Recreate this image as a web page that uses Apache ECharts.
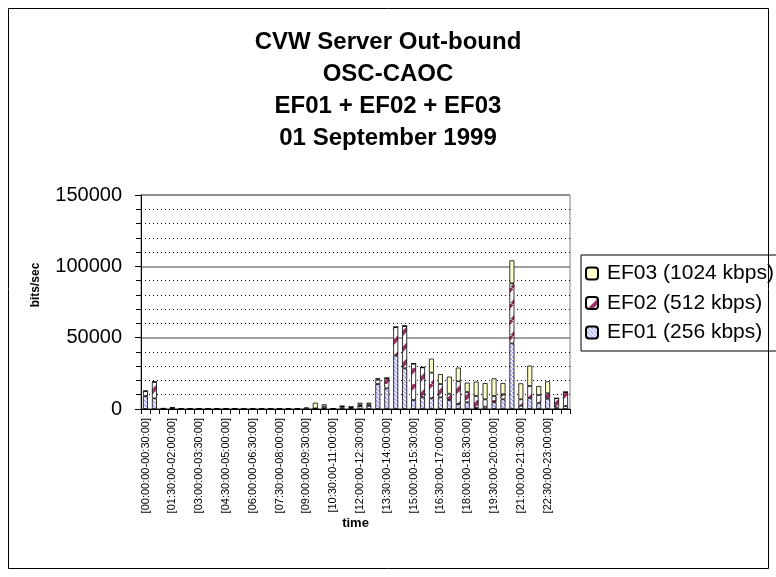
<!DOCTYPE html>
<html>
<head>
<meta charset="utf-8">
<script src="https://cdn.jsdelivr.net/npm/echarts@6/dist/echarts.min.js"></script>
<style>
  html, body { margin: 0; padding: 0; background: #fff; }
  #chart { width: 776px; height: 577px; }
</style>
</head>
<body>
<div id="chart"></div>
<script>
const categories = [
  '[00:00:00-00:30:00]', '[00:30:00-01:00:00]', '[01:00:00-01:30:00]', '[01:30:00-02:00:00]',
  '[02:00:00-02:30:00]', '[02:30:00-03:00:00]', '[03:00:00-03:30:00]', '[03:30:00-04:00:00]',
  '[04:00:00-04:30:00]', '[04:30:00-05:00:00]', '[05:00:00-05:30:00]', '[05:30:00-06:00:00]',
  '[06:00:00-06:30:00]', '[06:30:00-07:00:00]', '[07:00:00-07:30:00]', '[07:30:00-08:00:00]',
  '[08:00:00-08:30:00]', '[08:30:00-09:00:00]', '[09:00:00-09:30:00]', '[09:30:00-10:00:00]',
  '[10:00:00-10:30:00]', '[10:30:00-11:00:00]', '[11:00:00-11:30:00]', '[11:30:00-12:00:00]',
  '[12:00:00-12:30:00]', '[12:30:00-13:00:00]', '[13:00:00-13:30:00]', '[13:30:00-14:00:00]',
  '[14:00:00-14:30:00]', '[14:30:00-15:00:00]', '[15:00:00-15:30:00]', '[15:30:00-16:00:00]',
  '[16:00:00-16:30:00]', '[16:30:00-17:00:00]', '[17:00:00-17:30:00]', '[17:30:00-18:00:00]',
  '[18:00:00-18:30:00]', '[18:30:00-19:00:00]', '[19:00:00-19:30:00]', '[19:30:00-20:00:00]',
  '[20:00:00-20:30:00]', '[20:30:00-21:00:00]', '[21:00:00-21:30:00]', '[21:30:00-22:00:00]',
  '[22:00:00-22:30:00]', '[22:30:00-23:00:00]', '[23:00:00-23:30:00]', '[23:30:00-00:00:00]'
]

// bits/sec per half hour
const ef01 = [9000, 7500, 200, 500, 0, 0, 0, 0, 0, 0, 0, 0, 0, 0, 0, 0, 0, 0,
  0, 200, 500, 0, 1000, 800, 2000, 2200, 17500, 14500, 37400, 28500, 6300, 8200,
  7500, 8200, 6300, 3500, 4700, 700, 1600, 4700, 6800, 46000, 2300, 7500, 4000, 7200, 1000, 2100]
const ef02 = [3500, 11500, 200, 300, 0, 0, 0, 0, 0, 0, 0, 0, 0, 0, 0, 0, 0, 0,
  0, 200, 1200, 0, 1000, 700, 1000, 1000, 3000, 7200, 20100, 29700, 25500, 21000,
  18000, 9300, 4400, 15900, 7200, 8400, 5200, 4400, 3500, 42100, 4500, 8600, 5800, 3800, 6500, 9800]
const ef03 = [300, 200, 0, 300, 0, 0, 0, 0, 0, 0, 0, 0, 0, 0, 0, 0, 0, 0,
  1200, 4000, 1600, 0, 0, 0, 1400, 1200, 1200, 0, 0, 0, 0, 0,
  9800, 7000, 12000, 9600, 6600, 10100, 11400, 12400, 7900, 16100, 11200, 14300, 6300, 8400, 0, 0]

const seriesNames = ['EF01 (256 kbps)', 'EF02 (512 kbps)', 'EF03 (1024 kbps)']
const yTicks = [0, 50000, 100000, 150000]

// diagonal hatch fill like the old spreadsheet patterns
function hatch(size, color, width, up) {
  const c = document.createElement('canvas')
  c.width = size
  c.height = size
  const g = c.getContext('2d')
  g.fillStyle = '#ffffff'
  g.fillRect(0, 0, size, size)
  g.strokeStyle = color
  g.lineWidth = width
  g.beginPath()
  for (let k = -1; k <= 1; k++) {
    if (up) {
      g.moveTo(k * size, size)
      g.lineTo(k * size + size, 0)
    } else {
      g.moveTo(k * size, 0)
      g.lineTo(k * size + size, size)
    }
  }
  g.stroke()
  return { image: c, repeat: 'repeat' }
}

const fills = [
  hatch(4, '#a0a0ff', 1.4, false),
  hatch(16, '#993366', 4, true),
  '#ffffcc'
]

const font = 'Liberation Sans, Arial, sans-serif'
const chart = echarts.init(document.getElementById('chart'))

const option = {
  animation: false,
  backgroundColor: '#ffffff',
  title: {
    text: 'CVW Server Out-bound\nOSC-CAOC\nEF01 + EF02 + EF03\n01 September 1999',
    left: 'center',
    top: 21,
    textStyle: { fontFamily: font, fontWeight: 'bold', fontSize: 24, lineHeight: 32, color: '#000' }
  },
  graphic: [{
    type: 'rect',
    shape: { x: 8.5, y: 8.5, width: 760, height: 560 },
    style: { fill: 'none', stroke: '#000', lineWidth: 1 },
    silent: true
  }],
  legend: {
    orient: 'vertical',
    left: 581,
    top: 255,
    data: [seriesNames[2], seriesNames[1], seriesNames[0]],
    itemWidth: 12,
    itemHeight: 12,
    itemGap: 8.5,
    padding: [8, 30, 8, 4],
    borderColor: '#000',
    borderWidth: 1,
    textStyle: { fontFamily: font, fontSize: 21, lineHeight: 21, color: '#000', padding: [0, 0, 0, 4] }
  },
  grid: {
    left: 141,
    right: 206,
    top: 195,
    bottom: 168,
    show: true,
    borderColor: '#808080',
    borderWidth: 1
  },
  xAxis: {
    type: 'category',
    data: categories,
    name: 'time',
    nameLocation: 'middle',
    nameGap: 94,
    nameTextStyle: { fontFamily: font, fontWeight: 'bold', fontSize: 13, color: '#000' },
    axisLine: { lineStyle: { color: '#000', width: 1 } },
    axisTick: { show: true, interval: 0, length: 5, lineStyle: { color: '#000' } },
    axisLabel: {
      interval: 2,
      rotate: 90,
      margin: 9,
      fontFamily: font,
      fontSize: 11,
      color: '#000'
    }
  },
  yAxis: {
    type: 'value',
    min: 0,
    max: 150000,
    interval: 50000,
    name: 'bits/sec',
    nameLocation: 'middle',
    nameRotate: 90,
    nameGap: 99,
    nameTextStyle: { fontFamily: font, fontWeight: 'bold', fontSize: 12, color: '#000', padding: [0, 0, 0, 34] },
    axisLine: { show: true, lineStyle: { color: '#000', width: 1 } },
    axisTick: { show: true, length: 6, lineStyle: { color: '#000' } },
    minorTick: { show: true, splitNumber: 5, length: 5, lineStyle: { color: '#000' } },
    axisLabel: {
      margin: 19,
      fontFamily: font,
      fontSize: 20,
      color: '#000',
      formatter: v => (yTicks.indexOf(v) >= 0 ? String(v) : '')
    },
    splitLine: { show: true, lineStyle: { color: '#808080', width: 1.5 } },
    minorSplitLine: { show: true, lineStyle: { color: '#000', width: 1, type: [1, 3] } }
  },
  series: seriesNames.map((name, i) => ({
    name: name,
    type: 'bar',
    stack: 'total',
    barWidth: 5,
    data: [ef01, ef02, ef03][i],
    itemStyle: { color: fills[i], borderColor: '#000', borderWidth: 0.8 }
  }))
}

chart.setOption(option)
</script>
</body>
</html>
